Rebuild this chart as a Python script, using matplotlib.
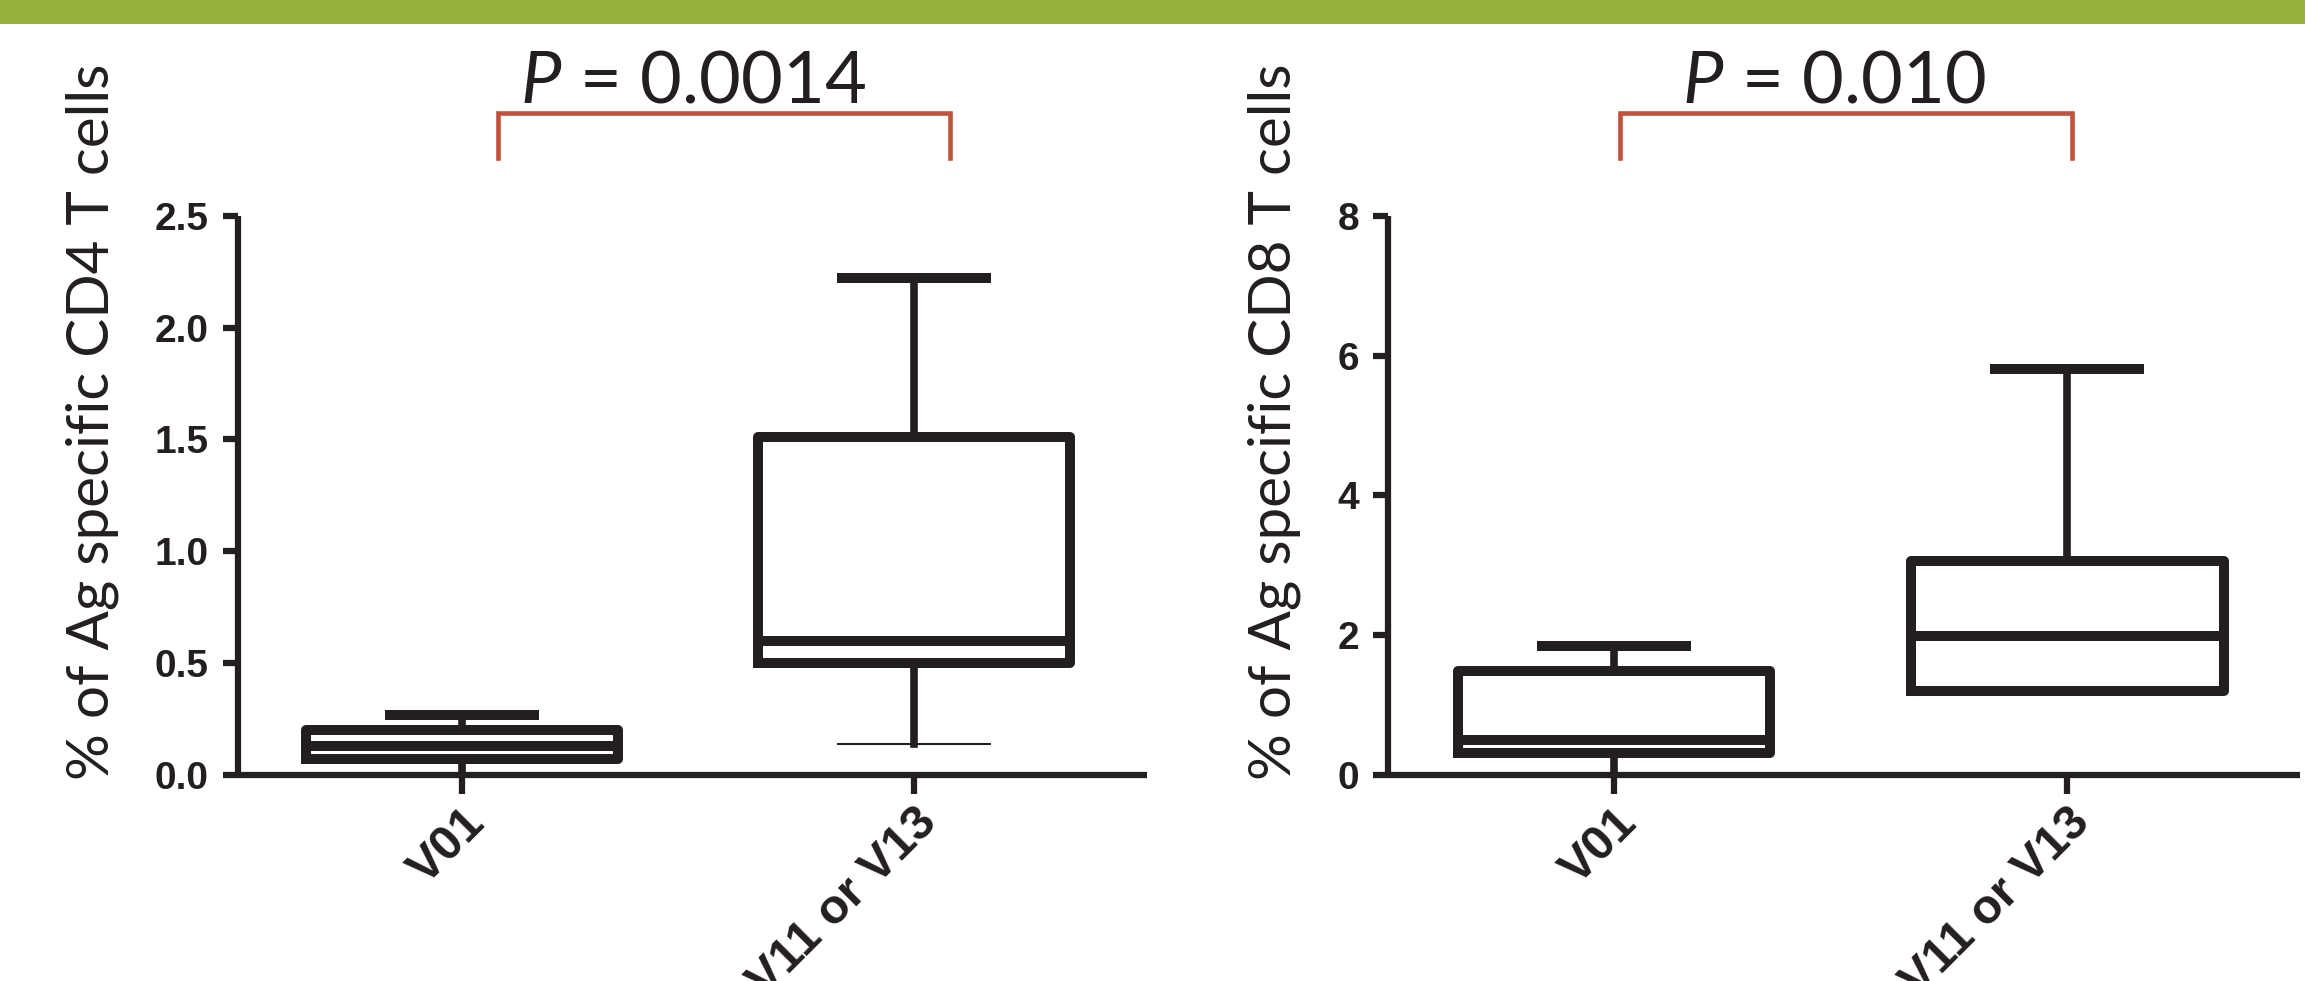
import matplotlib
matplotlib.use("Agg")
import matplotlib.pyplot as plt
import matplotlib.transforms as mtransforms
from matplotlib.patches import Rectangle

groups = ["V01", "V11 or V13"]

# CD4 panel (box statistics)
cd4_whislo = [0.0, 0.14]
cd4_q1 = [0.07, 0.50]
cd4_med = [0.13, 0.60]
cd4_q3 = [0.20, 1.51]
cd4_whishi = [0.27, 2.22]
cd4_ticks = [0.0, 0.5, 1.0, 1.5, 2.0, 2.5]
cd4_labels = ["0.0", "0.5", "1.0", "1.5", "2.0", "2.5"]

# CD8 panel
cd8_whislo = [0.0, 1.20]
cd8_q1 = [0.32, 1.20]
cd8_med = [0.50, 1.99]
cd8_q3 = [1.49, 3.06]
cd8_whishi = [1.84, 5.81]
cd8_ticks = [0, 2, 4, 6, 8]
cd8_labels = ["0", "2", "4", "6", "8"]

p_values = ["0.0014", "0.010"]
ylabels = ["% of Ag specific CD4 T cells", "% of Ag specific CD8 T cells"]

plt.rcParams['mathtext.fontset'] = 'custom'
plt.rcParams['mathtext.it'] = 'Lato:italic'
plt.rcParams['mathtext.rm'] = 'Lato'

BLACK = "#231f20"
RED = "#c2513b"
GREEN = "#97b23b"


def draw_panel(ax, whislo, q1, med, q3, whishi, ticks, labels, ymax, xlim):
    stats = []
    for i in range(len(groups)):
        stats.append(dict(whislo=whislo[i], q1=q1[i], med=med[i],
                          q3=q3[i], whishi=whishi[i], label=groups[i]))
    lw = 7.2
    parts = ax.bxp(
        stats, positions=[1, 2], widths=0.69, showfliers=False,
        boxprops=dict(color=BLACK, linewidth=lw),
        medianprops=dict(color=BLACK, linewidth=lw, solid_capstyle='butt'),
        whiskerprops=dict(color=BLACK, linewidth=5.5),
        capprops=dict(color=BLACK, linewidth=lw),
        capwidths=0.34,
    )
    for c in parts['caps']:
        c.set_solid_capstyle('butt')
    # caps sitting on the axis line are not drawn in the original
    for i in range(len(groups)):
        if whislo[i] == 0:
            parts['caps'][2 * i].set_visible(False)
    ax.set_ylim(0, ymax)
    ax.set_xlim(*xlim)
    ax.set_yticks(ticks)
    ax.set_yticklabels(labels)
    ax.set_xticks([1, 2])
    ax.set_xticklabels(groups, rotation=45, ha='right',
                       rotation_mode='anchor')
    for s in ['top', 'right']:
        ax.spines[s].set_visible(False)
    for s in ['left', 'bottom']:
        ax.spines[s].set_linewidth(4.5)
        ax.spines[s].set_color(BLACK)
        ax.spines[s].set_capstyle('butt')
    ax.tick_params(axis='y', length=11, width=4.5, color=BLACK, pad=10,
                   labelsize=28)
    ax.tick_params(axis='x', length=14, width=4.5, color=BLACK, pad=4,
                   labelsize=35)
    for t in ax.get_xticklabels() + ax.get_yticklabels():
        t.set_fontweight('bold')
        t.set_family('Liberation Sans')
        t.set_color(BLACK)
    return parts


fig = plt.figure(figsize=(23.05, 9.81), dpi=100)
fig.patches.append(Rectangle((0, 0.9755), 1, 0.0245, transform=fig.transFigure,
                             facecolor=GREEN, edgecolor='none'))

ax1 = fig.add_axes([0.1033, 0.210, 0.3943, 0.570])
ax2 = fig.add_axes([0.6022, 0.210, 0.3957, 0.570])

parts = draw_panel(ax1, cd4_whislo, cd4_q1, cd4_med, cd4_q3, cd4_whishi,
                   cd4_ticks, cd4_labels, 2.5, (0.504, 2.515))
# lower cap of the second CD4 box is drawn thin in the original
parts['caps'][2].set_linewidth(1.5)
draw_panel(ax2, cd8_whislo, cd8_q1, cd8_med, cd8_q3, cd8_whishi,
           cd8_ticks, cd8_labels, 8, (0.501, 2.514))

# significance brackets
for ax, xs in [(ax1, (1.08, 2.08)), (ax2, (1.013, 2.01))]:
    trans = mtransforms.blended_transform_factory(ax.transData, ax.transAxes)
    ax.plot([xs[0], xs[0], xs[1], xs[1]], [1.103, 1.184, 1.184, 1.103],
            color=RED, linewidth=3.3, transform=trans, clip_on=False,
            solid_joinstyle='miter')

for x, p in zip([0.3007, 0.7957], p_values):
    fig.text(x, 0.896, r"$P$ = " + p, ha='center', va='baseline',
             fontsize=52, family='Lato', color=BLACK)

for x, lab in zip([0.040, 0.553], ylabels):
    fig.text(x, 0.570, lab, rotation=90, ha='center', va='center',
             fontsize=42, family='Lato', color=BLACK)

fig.savefig("out.png", dpi=100)
